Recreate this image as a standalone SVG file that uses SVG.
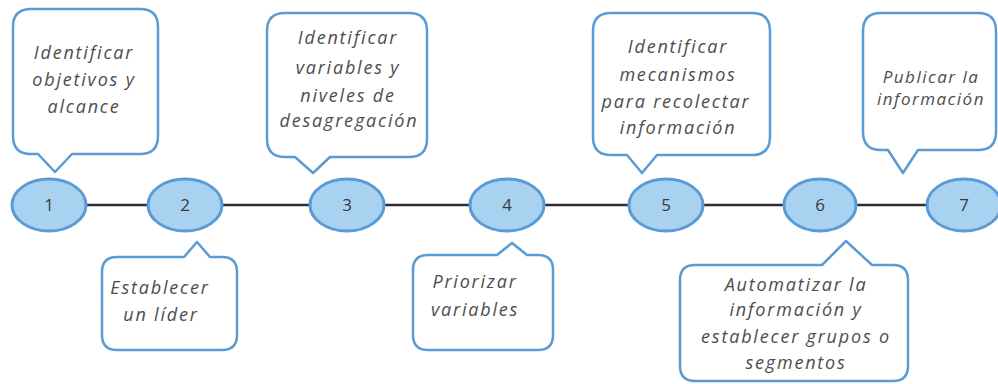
<svg xmlns="http://www.w3.org/2000/svg" width="998" height="384" viewBox="0 0 998 384">
<style>
.call{fill:#ffffff;stroke:#5b9bd5;stroke-width:2.5;stroke-linejoin:round}
.circ{fill:#a8d2f0;stroke:#5b9bd5;stroke-width:3}
.lbl{font-family:"Open Sans","Liberation Sans",sans-serif;font-style:italic;font-size:18px;letter-spacing:1.8px;fill:#4d4d4d;text-anchor:middle}
.num{font-family:"Open Sans","Liberation Sans",sans-serif;font-size:17px;fill:#3a3a3a;text-anchor:middle}
.conn{stroke:#2e2e2e;stroke-width:2.5;fill:none}
</style>
<rect width="998" height="384" fill="#ffffff"/>
<g id="connectors">
<line class="conn" x1="85" y1="205" x2="148" y2="205"/>
<line class="conn" x1="222" y1="205" x2="310" y2="205"/>
<line class="conn" x1="384" y1="205" x2="470" y2="205"/>
<line class="conn" x1="544" y1="205" x2="629" y2="205"/>
<line class="conn" x1="703" y1="205" x2="784" y2="205"/>
<line class="conn" x1="856" y1="205" x2="927" y2="205"/>
</g>
<g id="callout1">
<path class="call" d="M31 9H140Q158 9 158 27V136Q158 154 140 154H72L55 172L38 154H31Q13 154 13 136V27Q13 9 31 9Z"/>
<text class="lbl" x="84" y="59">Identificar</text>
<text class="lbl" x="84" y="86">objetivos y</text>
<text class="lbl" x="84" y="113">alcance</text>
</g>
<g id="callout3">
<path class="call" d="M285 13H409Q427 13 427 31V139Q427 157 409 157H330L313 173L295 157H285Q267 157 267 139V31Q267 13 285 13Z"/>
<text class="lbl" x="348" y="44">Identificar</text>
<text class="lbl" x="348" y="74">variables y</text>
<text class="lbl" x="348" y="102">niveles de</text>
<text class="lbl" x="349" y="127">desagregación</text>
</g>
<g id="callout5">
<path class="call" d="M611 13H752Q770 13 770 31V137Q770 155 752 155H657L642 173L627 155H611Q593 155 593 137V31Q593 13 611 13Z"/>
<text class="lbl" x="678" y="53">Identificar</text>
<text class="lbl" x="678" y="81">mecanismos</text>
<text class="lbl" x="676" y="108">para recolectar</text>
<text class="lbl" x="678" y="134">información</text>
</g>
<g id="callout7">
<path class="call" d="M881 13H978Q996 13 996 31V132Q996 150 978 150H918L903 173L888 150H881Q863 150 863 132V31Q863 13 881 13Z"/>
<text class="lbl" x="931" y="83" style="font-size:17px;letter-spacing:1.5px">Publicar la</text>
<text class="lbl" x="931" y="105" style="font-size:17px;letter-spacing:1.5px">información</text>
</g>
<g id="node1"><ellipse class="circ" cx="49" cy="205" rx="37" ry="26"/><text class="num" x="49" y="211">1</text></g>
<g id="node2"><ellipse class="circ" cx="185" cy="205" rx="37" ry="26"/><text class="num" x="185" y="211">2</text></g>
<g id="node3"><ellipse class="circ" cx="347" cy="205" rx="37" ry="26"/><text class="num" x="347" y="211">3</text></g>
<g id="node4"><ellipse class="circ" cx="507" cy="205" rx="37" ry="26"/><text class="num" x="507" y="211">4</text></g>
<g id="node5"><ellipse class="circ" cx="666" cy="205" rx="37" ry="26"/><text class="num" x="666" y="211">5</text></g>
<g id="node6"><ellipse class="circ" cx="820" cy="205" rx="36" ry="26"/><text class="num" x="820" y="211">6</text></g>
<g id="node7"><ellipse class="circ" cx="964" cy="205" rx="37" ry="26"/><text class="num" x="964" y="211">7</text></g>
<g id="callout2">
<path class="call" d="M117 257H184L197 242L210 257H222Q237 257 237 272V335Q237 350 222 350H117Q102 350 102 335V272Q102 257 117 257Z"/>
<text class="lbl" x="160" y="294">Establecer</text>
<text class="lbl" x="161" y="321">un líder</text>
</g>
<g id="callout4">
<path class="call" d="M428 255H497L512 243L527 255H538Q553 255 553 270V335Q553 350 538 350H428Q413 350 413 335V270Q413 255 428 255Z"/>
<text class="lbl" x="475" y="288">Priorizar</text>
<text class="lbl" x="475" y="316">variables</text>
</g>
<g id="callout6">
<path class="call" d="M695 265H822L846 241L872 265H893Q908 265 908 280V366Q908 381 893 381H695Q680 381 680 366V280Q680 265 695 265Z"/>
<text class="lbl" x="796" y="291">Automatizar la</text>
<text class="lbl" x="796" y="316">información y</text>
<text class="lbl" x="796" y="343">establecer grupos o</text>
<text class="lbl" x="796" y="369">segmentos</text>
</g>
</svg>
